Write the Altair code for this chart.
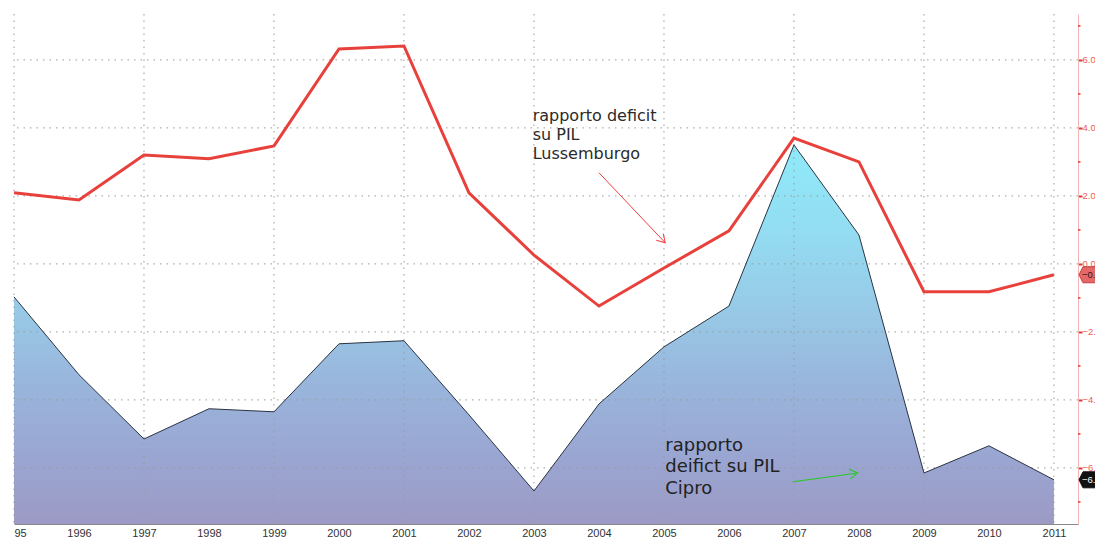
import math
import altair as alt
import pandas as pd

# ---- data ----
years = list(range(1995, 2012))
lux = [2.09, 1.88, 3.20, 3.09, 3.47, 6.32, 6.41, 2.09, 0.26, -1.24, -0.12, 0.97, 3.70, 3.00, -0.82, -0.82, -0.32]
cyp = [-0.97, -3.26, -5.15, -4.26, -4.35, -2.35, -2.26, -4.44, -6.68, -4.12, -2.44, -1.24, 3.50, 0.85, -6.15, -5.35, -6.35]

x_grid = [1995, 1997, 1999, 2001, 2003, 2005, 2007, 2009, 2011]
y_grid = [-6, -4, -2, 0, 2, 4, 6]
y_minor = [-7, -5, -3, -1, 1, 3, 5, 7]

lux_label = "rapporto deficit\nsu PIL\nLussemburgo"
cyp_label = "rapporto\ndeifict su PIL\nCipro"

# annotation anchors (data units)
lux_text_at = (2002.98, 4.6)
cyp_text_at = (2005.02, -5.08)
red_arrow = (2004.0, 2.68, 2005.02, 0.62)
green_arrow = (2006.98, -6.41, 2007.98, -6.15)

XMIN, XMAX = 1995, 2011.37
YMIN, YMAX = -7.65, 7.35
W, H = 1064, 510
PX_X = W / (XMAX - XMIN)
PX_Y = H / (YMAX - YMIN)

df = pd.DataFrame({"anno": years, "lux": lux, "cyp": cyp})

xs = alt.Scale(domain=[XMIN, XMAX], nice=False, zero=False)
ys = alt.Scale(domain=[YMIN, YMAX], nice=False, zero=False)

xaxis = alt.Axis(
    values=years, format="d",
    labelExpr="datum.value == 1995 ? '95' : datum.label",
    grid=False, ticks=False, domainColor="#8a8a8a", domainWidth=1,
    labelColor="#333333", labelFont="Liberation Sans", labelFontSize=11,
    labelPadding=3, labelOverlap=False, title=None,
)
yaxis = alt.Axis(
    orient="right", values=y_grid,
    labelExpr="substring(format(datum.value, '.1f'), 0, 3)",
    grid=False, domainColor="#f4b4b4", domainWidth=1,
    tickColor="#e53935", tickSize=4, tickWidth=2,
    labelColor="#ef5a5a", labelFont="Liberation Sans", labelFontSize=9.5,
    labelPadding=0, labelOverlap=False, title=None,
)

gradient = alt.Gradient(
    gradient="linear",
    stops=[
        alt.GradientStop(color="#8eeaf9", offset=0),
        alt.GradientStop(color="#93ddf2", offset=0.22),
        alt.GradientStop(color="#97cbe7", offset=0.42),
        alt.GradientStop(color="#99b6dc", offset=0.62),
        alt.GradientStop(color="#9aa6d2", offset=0.82),
        alt.GradientStop(color="#9c9ac5", offset=1),
    ],
    x1=0, x2=0, y1=0, y2=1,
)

base = alt.Chart(df)

area = base.mark_area(color=gradient, strokeWidth=0).encode(
    x=alt.X("anno:Q", scale=xs, axis=xaxis),
    y=alt.Y("cyp:Q", scale=ys, axis=yaxis),
    y2=alt.datum(YMIN),
)
area_edge = base.mark_line(color="#2a3343", strokeWidth=1).encode(
    x=alt.X("anno:Q", scale=xs),
    y=alt.Y("cyp:Q", scale=ys),
)

vgrid = alt.Chart(pd.DataFrame({"g": x_grid})).mark_rule(
    color="#9a9a9a", strokeDash=[1.5, 5], strokeWidth=1
).encode(x=alt.X("g:Q", scale=xs))
hgrid = alt.Chart(pd.DataFrame({"g": y_grid})).mark_rule(
    color="#9a9a9a", strokeDash=[1.5, 5], strokeWidth=1
).encode(y=alt.Y("g:Q", scale=ys))

# minor ticks on the right axis
minor = alt.Chart(pd.DataFrame({"g": y_minor})).mark_rule(
    color="#e53935", strokeWidth=1.5
).encode(y=alt.Y("g:Q", scale=ys), x=alt.value(W), x2=alt.value(W + 2.5))

red_line = base.mark_line(color="#e8413c", strokeWidth=3).encode(
    x=alt.X("anno:Q", scale=xs),
    y=alt.Y("lux:Q", scale=ys),
)

def ang(a):
    x1, y1, x2, y2 = a
    return math.degrees(math.atan2(-(y2 - y1) * PX_Y, (x2 - x1) * PX_X)) % 360

arrows = pd.DataFrame({
    "x1": [red_arrow[0], green_arrow[0]],
    "y1": [red_arrow[1], green_arrow[1]],
    "x2": [red_arrow[2], green_arrow[2]],
    "y2": [red_arrow[3], green_arrow[3]],
    "c": ["#f04040", "#22cc22"],
    "a": [ang(red_arrow), ang(green_arrow)],
})
arrow_lines = alt.Chart(arrows).mark_rule(strokeWidth=1).encode(
    x=alt.X("x1:Q", scale=xs), y=alt.Y("y1:Q", scale=ys),
    x2="x2:Q", y2="y2:Q", color=alt.Color("c:N", scale=None),
)
arrow_heads = alt.Chart(arrows).mark_point(
    shape="M-1,-0.6L0,0L-1,0.6", filled=False, size=256, strokeWidth=1, opacity=1
).encode(
    x=alt.X("x2:Q", scale=xs), y=alt.Y("y2:Q", scale=ys),
    color=alt.Color("c:N", scale=None), angle=alt.Angle("a:Q", scale=None),
)

lux_text = alt.Chart(pd.DataFrame({"x": [lux_text_at[0]], "y": [lux_text_at[1]], "t": [lux_label]})).mark_text(
    align="left", baseline="top", lineBreak="\n", font="DejaVu Sans", fontSize=16,
    lineHeight=19, color="#2a2a2a",
).encode(x=alt.X("x:Q", scale=xs), y=alt.Y("y:Q", scale=ys), text="t:N")
cyp_text = alt.Chart(pd.DataFrame({"x": [cyp_text_at[0]], "y": [cyp_text_at[1]], "t": [cyp_label]})).mark_text(
    align="left", baseline="top", lineBreak="\n", font="DejaVu Sans", fontSize=18,
    lineHeight=21.5, color="#222222",
).encode(x=alt.X("x:Q", scale=xs), y=alt.Y("y:Q", scale=ys), text="t:N")

tags = pd.DataFrame({
    "v": [lux[-1], cyp[-1]],
    "fill": ["#e46868", "#111111"],
    "stroke": ["#c83c3c", "#111111"],
    "tc": ["#3a1414", "#ffffff"],
})
tag_base = alt.Chart(tags).transform_calculate(lbl="substring(format(datum.v, '.1f'), 0, 3)")
tag_shapes = tag_base.mark_point(
    shape="M-1,0L-0.5,-1L3,-1L3,1L-0.5,1Z", filled=True, size=256, opacity=1, strokeWidth=1
).encode(
    x=alt.value(W + 9), y=alt.Y("v:Q", scale=ys),
    fill=alt.Color("fill:N", scale=None), stroke=alt.Color("stroke:N", scale=None),
)
tag_text = tag_base.mark_text(
    align="left", baseline="middle", font="Liberation Sans", fontSize=9.5
).encode(
    x=alt.value(W + 4), y=alt.Y("v:Q", scale=ys),
    text="lbl:N", color=alt.Color("tc:N", scale=None),
)

chart = alt.layer(
    area, vgrid, hgrid, area_edge, red_line, minor, arrow_lines, arrow_heads,
    lux_text, cyp_text, tag_shapes, tag_text,
).properties(
    width=W, height=H,
    padding={"left": 6, "top": 6, "right": 17, "bottom": 14},
    autosize=alt.AutoSizeParams(type="none"),
    background="white",
).configure_view(stroke=None)

chart.save("out.html", embed_options={"renderer": "svg", "actions": False})
